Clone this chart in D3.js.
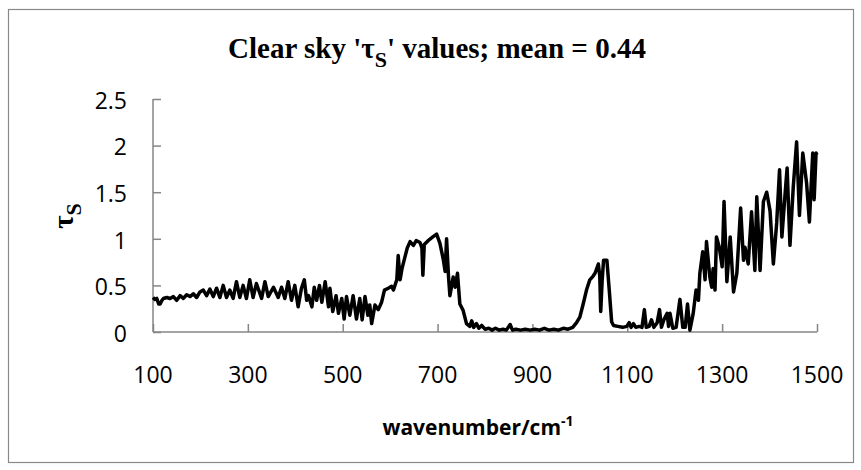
<!DOCTYPE html>
<html>
<head>
<meta charset="utf-8">
<script src="https://cdnjs.cloudflare.com/ajax/libs/d3/7.8.5/d3.min.js"></script>
<style>
	body { margin: 0; background: #fff; }
	svg { display: block; }
</style>
</head>
<body>
<svg></svg>
<script>
// values
const wavenumber = [
	100, 104, 108, 112, 115, 119, 122, 129, 136, 143, 150, 157, 164, 171, 178, 185, 192, 199, 206, 213,
	220, 227, 234, 241, 248, 255, 262, 269, 276, 283, 290, 297, 304, 311, 318, 329, 336, 343, 354, 364,
	371, 378, 385, 392, 399, 406, 413, 419, 424, 428, 435, 440, 445, 451, 456, 463, 470, 473, 479, 486,
	491, 498, 503, 508, 515, 522, 529, 536, 541, 547, 553, 557, 561, 568, 575, 582, 588, 596, 603, 607,
	614, 617, 621, 625, 631, 636, 642, 649, 655, 663, 667, 669, 672, 680, 690, 698, 705, 712, 716, 719,
	723, 726, 733, 737, 742, 747, 754, 761, 768, 772, 776, 782, 787, 793, 800, 808, 815, 822, 830, 838,
	845, 853, 858, 865, 875, 885, 895, 905, 915, 925, 935, 945, 955, 965, 975, 985, 993, 1000, 1007, 1014,
	1021, 1028, 1032, 1039, 1042, 1044, 1047, 1050, 1057, 1062, 1067, 1071, 1080, 1090, 1099, 1104, 1108, 1113, 1118, 1125,
	1131, 1136, 1140, 1146, 1151, 1156, 1163, 1168, 1172, 1177, 1184, 1187, 1190, 1196, 1203, 1211, 1217, 1222, 1227, 1232,
	1239, 1245, 1250, 1253, 1259, 1264, 1267, 1274, 1278, 1281, 1285, 1288, 1294, 1300, 1304, 1310, 1317, 1324, 1331, 1339,
	1345, 1348, 1355, 1362, 1369, 1373, 1380, 1387, 1394, 1401, 1408, 1415, 1421, 1426, 1433, 1437, 1443, 1450, 1457, 1463,
	1470, 1478, 1484, 1491, 1494, 1498, 1500
]
const tauS = [
	0.37, 0.35, 0.36, 0.30, 0.30, 0.34, 0.36, 0.37, 0.36, 0.38, 0.34, 0.39, 0.36, 0.40, 0.38, 0.41, 0.37, 0.43, 0.45, 0.39,
	0.46, 0.38, 0.47, 0.37, 0.50, 0.37, 0.45, 0.36, 0.54, 0.37, 0.50, 0.36, 0.56, 0.37, 0.52, 0.36, 0.54, 0.38, 0.48, 0.37,
	0.48, 0.36, 0.54, 0.34, 0.50, 0.27, 0.47, 0.56, 0.34, 0.39, 0.27, 0.48, 0.34, 0.50, 0.32, 0.54, 0.27, 0.47, 0.22, 0.39,
	0.20, 0.36, 0.14, 0.38, 0.18, 0.39, 0.14, 0.36, 0.13, 0.38, 0.18, 0.29, 0.09, 0.29, 0.24, 0.32, 0.45, 0.47, 0.49, 0.45,
	0.56, 0.82, 0.56, 0.68, 0.80, 0.90, 0.97, 0.93, 0.98, 0.96, 0.90, 0.61, 0.94, 0.98, 1.02, 1.05, 0.95, 0.78, 0.65, 1.00,
	0.60, 0.39, 0.59, 0.48, 0.63, 0.30, 0.23, 0.09, 0.06, 0.12, 0.05, 0.09, 0.04, 0.07, 0.03, 0.04, 0.02, 0.04, 0.02, 0.03,
	0.02, 0.08, 0.02, 0.03, 0.02, 0.03, 0.02, 0.03, 0.02, 0.04, 0.02, 0.03, 0.02, 0.04, 0.03, 0.05, 0.10, 0.16, 0.30, 0.45,
	0.56, 0.60, 0.63, 0.73, 0.60, 0.22, 0.55, 0.77, 0.77, 0.45, 0.11, 0.07, 0.06, 0.05, 0.06, 0.10, 0.05, 0.09, 0.05, 0.06,
	0.05, 0.24, 0.05, 0.06, 0.13, 0.05, 0.10, 0.24, 0.05, 0.13, 0.20, 0.06, 0.20, 0.04, 0.05, 0.35, 0.05, 0.05, 0.30, 0.02,
	0.20, 0.45, 0.34, 0.63, 0.86, 0.56, 0.97, 0.59, 0.48, 0.68, 0.45, 1.02, 0.91, 0.70, 1.40, 0.54, 1.02, 0.43, 0.63, 1.33,
	0.77, 0.91, 0.73, 1.29, 0.66, 1.45, 0.66, 1.40, 1.50, 1.30, 0.73, 1.17, 1.74, 1.02, 1.50, 1.76, 0.93, 1.56, 2.04, 1.25,
	1.92, 1.60, 1.18, 1.92, 1.42, 1.92, 1.90
]
const xTicks = [100, 300, 500, 700, 900, 1100, 1300, 1500]
const yTicks = [0, 0.5, 1, 1.5, 2, 2.5]

const width = 861
const height = 470
const margin = {left: 153, right: 44, top: 99, bottom: 138}
const axisColor = '#868686'
const labelFont = 'Open Sans, sans-serif'
const serifFont = 'Liberation Serif, Times New Roman, serif'

const svg = d3.select('svg')
	.attr('width', width)
	.attr('height', height)

// chart border
svg.append('rect')
	.attr('x', 8.5)
	.attr('y', 9.5)
	.attr('width', 845)
	.attr('height', 453)
	.attr('fill', 'none')
	.attr('stroke', '#898989')
	.attr('stroke-width', 1.2)

const x = d3.scaleLinear().domain([100, 1500]).range([margin.left, width - margin.right])
const y = d3.scaleLinear().domain([0, 2.5]).range([height - margin.bottom, margin.top])

// x axis, ticks point into the plot
const xAxis = svg.append('g')
	.attr('transform', `translate(0,${y(0)})`)
	.call(d3.axisTop(x).tickValues(xTicks).tickSize(8).tickFormat(''))
xAxis.select('.domain').attr('d', `M${x(100)},0H${x(1500)}`)
xAxis.selectAll('line, path').attr('stroke', axisColor).attr('stroke-width', 1.5)

svg.append('g').selectAll('text')
	.data(xTicks)
	.enter()
		.append('text')
		.attr('x', d => x(d))
		.attr('y', y(0) + 51)
		.attr('text-anchor', 'middle')
		.attr('font-family', labelFont)
		.attr('font-size', 23)
		.attr('fill', '#000')
		.text(d => d)

// y axis
const yAxis = svg.append('g')
	.attr('transform', `translate(${x(100)},0)`)
	.call(d3.axisRight(y).tickValues(yTicks).tickSize(8).tickFormat(''))
yAxis.select('.domain').attr('d', `M0,${y(2.5)}V${y(0)}`)
yAxis.selectAll('line, path').attr('stroke', axisColor).attr('stroke-width', 1.5)

svg.append('g').selectAll('text')
	.data(yTicks)
	.enter()
		.append('text')
		.attr('x', x(100) - 26)
		.attr('y', d => y(d))
		.attr('dy', '0.43em')
		.attr('text-anchor', 'end')
		.attr('font-family', labelFont)
		.attr('font-size', 23)
		.attr('fill', '#000')
		.text(d => d)

// the spectrum
const line = d3.line()
	.x((d, i) => x(wavenumber[i]))
	.y(d => y(d))

svg.append('path')
	.datum(tauS)
	.attr('d', line)
	.attr('fill', 'none')
	.attr('stroke', '#000')
	.attr('stroke-width', 3.5)
	.attr('stroke-linejoin', 'round')

// title
const title = svg.append('text')
	.attr('x', 437)
	.attr('y', 58)
	.attr('text-anchor', 'middle')
	.attr('font-family', serifFont)
	.attr('font-weight', 'bold')
	.attr('font-size', 29)
title.append('tspan').text("Clear sky '\u03c4")
title.append('tspan').attr('font-size', 22).attr('dy', 9).text('S')
title.append('tspan').attr('dy', -9).text("' values; mean = 0.44")

// y label
const yLabel = svg.append('text')
	.attr('transform', 'translate(73,216) rotate(-90)')
	.attr('text-anchor', 'middle')
	.attr('font-family', serifFont)
	.attr('font-weight', 'bold')
	.attr('font-size', 29)
yLabel.append('tspan').text('\u03c4')
yLabel.append('tspan').attr('font-size', 22).attr('dy', 8).text('S')

// x label
const xLabel = svg.append('text')
	.attr('x', 478)
	.attr('y', 435)
	.attr('text-anchor', 'middle')
	.attr('font-family', labelFont)
	.attr('font-weight', 'bold')
	.attr('font-size', 21)
xLabel.append('tspan').text('wavenumber/cm')
xLabel.append('tspan').attr('font-size', 14).attr('dy', -9).text('-1')
</script>
</body>
</html>
